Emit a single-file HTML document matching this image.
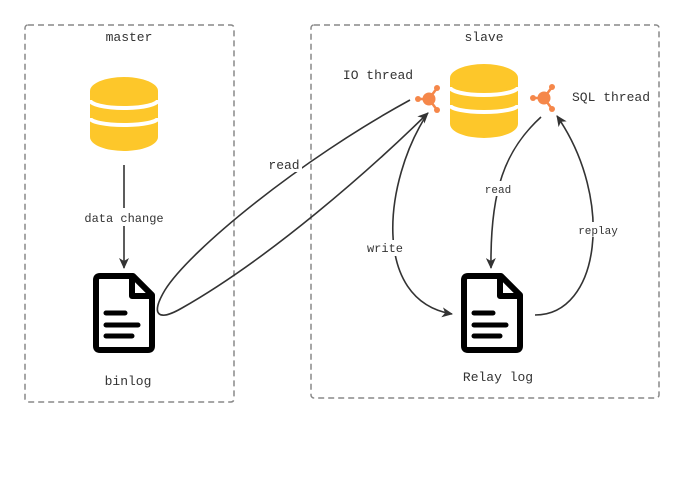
<!DOCTYPE html>
<html><head><meta charset="utf-8"><style>
html,body{margin:0;padding:0;background:#fff;}
svg{display:block}
text{font-family:"Liberation Mono","DejaVu Sans Mono",monospace;fill:#333;}
</style></head><body>
<svg width="696" height="495" viewBox="0 0 696 495" xmlns="http://www.w3.org/2000/svg">
<defs>
<marker id="ar" markerWidth="12" markerHeight="10" refX="10" refY="5" orient="auto" markerUnits="userSpaceOnUse">
<path d="M0,0 L11,5 L0,10 L3,5 Z" fill="#333"/></marker>
<g id="db">
<path d="M0,14 V60 A34,14 0 0 0 68,60 V14 Z" fill="#fdc72a"/>
<path d="M0,23 A34,8 0 0 0 68,23" fill="none" stroke="#fff" stroke-width="4"/>
<path d="M0,41 A34,7 0 0 0 68,41" fill="none" stroke="#fff" stroke-width="4"/>
<ellipse cx="34" cy="14" rx="34" ry="14" fill="#fdc72a"/>
</g>
<g id="hub" fill="#f5874a" stroke="#f5874a">
<line x1="0" y1="0" x2="-11" y2="0" stroke-width="2.5"/>
<line x1="0" y1="0" x2="8" y2="-11" stroke-width="2.5"/>
<line x1="0" y1="0" x2="8" y2="11" stroke-width="2.5"/>
<circle r="6.5" stroke="none"/>
<circle cx="-11" cy="0" r="3" stroke="none"/>
<circle cx="8" cy="-11" r="3" stroke="none"/>
<circle cx="8" cy="11" r="3" stroke="none"/>
</g>
<g id="doc">
<path d="M7,3 H40 L59,22 V73 Q59,77 55,77 H7 Q3,77 3,73 V7 Q3,3 7,3 Z" fill="#fff" stroke="#000" stroke-width="6" stroke-linejoin="round"/>
<path d="M39,4 V23 H58" fill="none" stroke="#000" stroke-width="6" stroke-linejoin="round"/>
<g stroke="#000" stroke-width="5" stroke-linecap="round">
<line x1="13" y1="40" x2="32" y2="40"/><line x1="13" y1="52" x2="45" y2="52"/><line x1="13" y1="63" x2="39" y2="63"/></g>
</g>
</defs>
<rect x="25" y="25" width="209" height="377" rx="3" fill="none" stroke="#888" stroke-width="1.5" stroke-dasharray="6,4"/>
<rect x="311" y="25" width="348" height="373" rx="3" fill="none" stroke="#888" stroke-width="1.5" stroke-dasharray="6,4"/>
<text x="129" y="41" font-size="13" text-anchor="middle">master</text>
<text x="484" y="41" font-size="13" text-anchor="middle">slave</text>
<use href="#db" x="90" y="77"/>
<use href="#db" x="450" y="64"/>
<use href="#hub" x="429" y="99"/>
<use href="#hub" x="544" y="98"/>
<text x="378" y="79" font-size="13" text-anchor="middle">IO thread</text>
<text x="611" y="101" font-size="13" text-anchor="middle">SQL thread</text>
<use href="#doc" x="93" y="273"/>
<use href="#doc" x="461" y="273"/>
<text x="128" y="385" font-size="13" text-anchor="middle">binlog</text>
<text x="498" y="381" font-size="13" text-anchor="middle">Relay log</text>
<g fill="none" stroke="#333" stroke-width="1.6">
<path d="M124,165 V268" marker-end="url(#ar)"/>
<path d="M410,100 C 300,160 190,250 165,290 C 150,315 158,322 182,308 C 270,258 370,170 428,113" marker-end="url(#ar)"/>
<path d="M426,116 C 385,180 370,300 452,314" marker-end="url(#ar)"/>
<path d="M541,117 C 505,150 490,190 491,268" marker-end="url(#ar)"/>
<path d="M535,315 C 600,315 615,200 557,116" marker-end="url(#ar)"/>
</g>
<rect x="80" y="208" width="88" height="18" fill="#fff"/>
<text x="124" y="222" font-size="12" text-anchor="middle">data change</text>
<rect x="266" y="156" width="36" height="16" fill="#fff"/>
<text x="284" y="169" font-size="13" text-anchor="middle">read</text>
<rect x="366" y="240" width="38" height="16" fill="#fff"/>
<text x="385" y="252" font-size="12" text-anchor="middle">write</text>
<rect x="484" y="181" width="28" height="15" fill="#fff"/>
<text x="498" y="193" font-size="11" text-anchor="middle">read</text>
<rect x="577" y="222" width="42" height="15" fill="#fff"/>
<text x="598" y="234" font-size="11" text-anchor="middle">replay</text>
</svg>
</body></html>
